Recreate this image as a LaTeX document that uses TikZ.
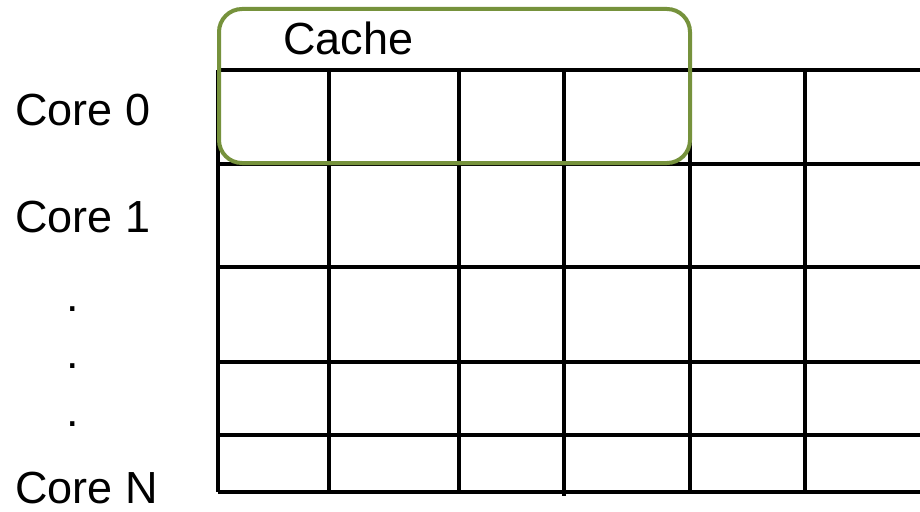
\documentclass[tikz,border=0pt]{standalone}
\usepackage{fontspec}
\setmainfont{Liberation Sans}
\definecolor{cachegreen}{HTML}{76923C}
\begin{document}
\begin{tikzpicture}[x=1pt,y=-1pt,
  gridline/.style={line width=3.3pt,black},
  cachebox/.style={draw=cachegreen,line width=4pt,rounded corners=23pt},
  lbl/.style={font=\fontsize{45}{54}\selectfont,inner sep=0pt,anchor=base west},
  dotlbl/.style={font=\fontsize{45}{54}\selectfont,inner sep=0pt,anchor=base}]
\useasboundingbox (0,0) rectangle (920,511);
\fill[white] (0,0) rectangle (920,511);
% horizontal lines
\foreach \y in {70,164,267,362,435,492}
  \draw[gridline] (218,\y) -- (920,\y);
% vertical lines
\foreach \x in {218,329,459,564,690,805}
  \draw[gridline] (\x,70) -- (\x,492);
\draw[gridline] (564,492) -- (564,496);
% cache box
\draw[cachebox] (219,9) rectangle (690,163);
\node[lbl] (cache) at (283,55) {Cache};
% labels
\node[lbl] (c0) at (15,125) {Core 0};
\node[lbl] (c1) at (15,232) {Core 1};
\node[dotlbl] (d1) at (73,311) {.};
\node[dotlbl] (d2) at (73,368) {.};
\node[dotlbl] (d3) at (73,426) {.};
\node[lbl,text depth=0pt] (cn) at (15,503) {Core N};
\end{tikzpicture}
\end{document}
